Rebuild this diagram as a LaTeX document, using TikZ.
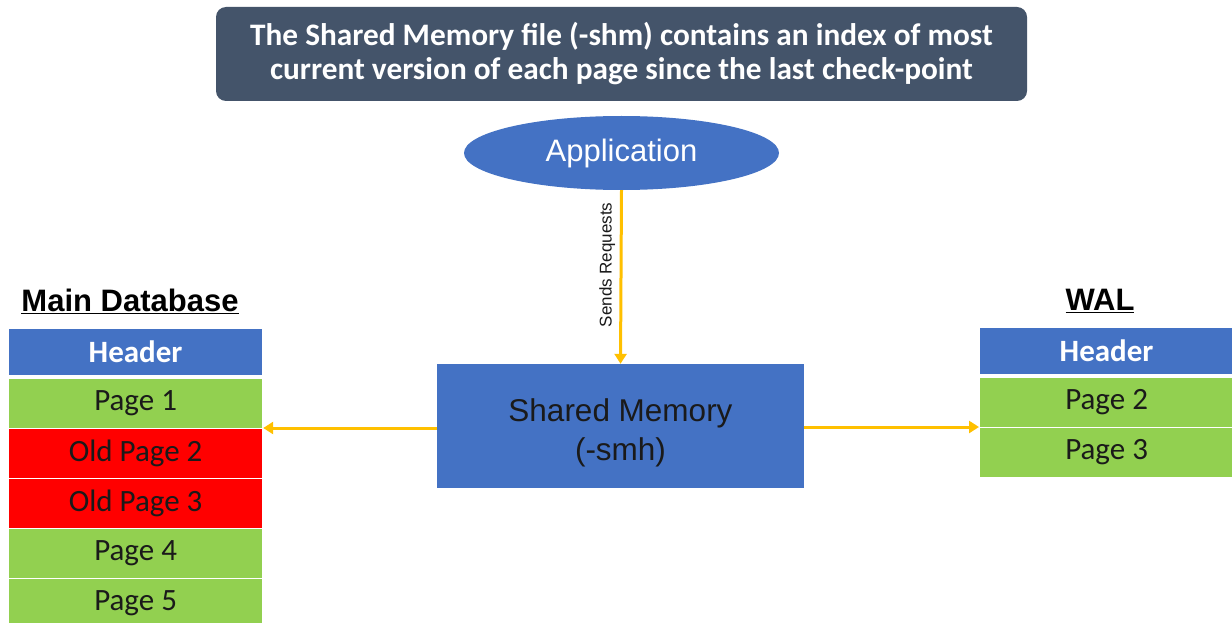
\documentclass[tikz,border=0pt]{standalone}
\usepackage{fontspec}
\setmainfont{Carlito}
\newfontfamily\arialf{Liberation Sans}
\usetikzlibrary{shapes.geometric,arrows.meta}
\definecolor{banner}{HTML}{44546A}
\definecolor{mblue}{HTML}{4472C4}
\definecolor{mgreen}{HTML}{92D050}
\definecolor{mred}{HTML}{FF0000}
\definecolor{mgold}{HTML}{FFC000}
\definecolor{dtext}{HTML}{1A1A1A}
\tikzset{
  cell/.style={draw=white, line width=1.2pt, minimum width=254pt, minimum height=50pt, inner sep=0pt, font=\fontsize{31}{36}\selectfont, text=dtext, anchor=north west},
  hdr/.style={cell, fill=mblue, minimum height=47pt, text=white, font=\fontsize{31}{36}\selectfont\bfseries},
  pg/.style={cell, fill=mgreen},
  oldpg/.style={cell, fill=mred},
  title/.style={font=\arialf\bfseries\fontsize{31}{36}\selectfont, text=black, inner sep=0pt},
  conn/.style={draw=mgold, line width=3pt, -{Triangle[length=10pt,width=12pt]}},
}
\begin{document}
\begin{tikzpicture}[x=1pt,y=-1pt]
\useasboundingbox (0,0) rectangle (1232,623);
\fill[white] (0,0) rectangle (1232,623);
% banner
\node[fill=banner, rounded corners=10pt, minimum width=811pt, minimum height=94pt, inner sep=0pt, text=white, align=center, font=\fontsize{31.3}{34}\selectfont\bfseries] (banner) at (621.5,54) {The Shared Memory file (-shm) contains an index of most\\current version of each page since the last check-point};
% application
\node[ellipse, fill=mblue, minimum width=315pt, minimum height=74pt, inner sep=0pt, text=white, font=\arialf\fontsize{31}{36}\selectfont] (app) at (621.5,153) {Application};
% shared memory
\node[fill=mblue, minimum width=367pt, minimum height=124pt, inner sep=0pt, text=dtext, align=center, font=\arialf\fontsize{31.5}{38}\selectfont] (shm) at (620.5,426) {\raisebox{-7pt}[\height][\depth]{\begin{tabular}{@{}c@{}}Shared Memory\\[1pt](-smh)\end{tabular}}};
% main database
\node[title] (mdtitle) at (130,301) {\underline{Main Database}};
\node[hdr] (mdh) at (8,328) {Header};
\node[pg] (md1) at (8,378) {Page 1};
\node[oldpg] (md2) at (8,428) {Old Page 2};
\node[oldpg] (md3) at (8,478) {Old Page 3};
\node[pg] (md4) at (8,528) {Page 4};
\node[pg] (md5) at (8,578) {Page 5};
% WAL
\node[title] (waltitle) at (1100,301) {\underline{WAL}};
\node[hdr] (walh) at (979,327) {Header};
\node[pg] (wal2) at (979,377) {Page 2};
\node[pg] (wal3) at (979,427) {Page 3};
% connectors
\draw[conn] (app.south) -- node[pos=0.43, left=1pt, rotate=90, anchor=south, font=\arialf\fontsize{17}{20}\selectfont, text=dtext] (lbl) {Sends Requests} (shm.north);
\draw[conn] (shm.west |- md2.north) -- (md2.north east);
\draw[conn] (shm.east |- wal3.north) -- (wal3.north west);
\end{tikzpicture}
\end{document}
